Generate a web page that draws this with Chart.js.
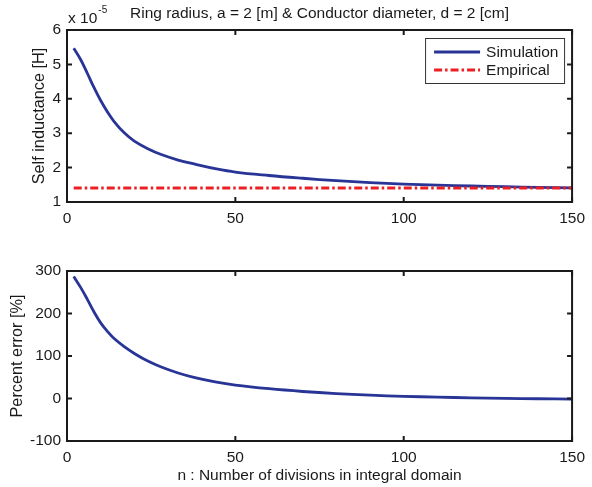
<!DOCTYPE html>
<html>
<head>
<meta charset="utf-8">
<script src="https://cdn.jsdelivr.net/npm/chart.js@4/dist/chart.umd.min.js"></script>
<style>
  body { margin: 0; background: #fff; }
  .box { position: absolute; left: 0; width: 592px; }
  #top { top: 0; height: 245px; }
  #bottom { top: 245px; height: 242px; }
</style>
</head>
<body>
<div class="box" id="top"><canvas id="grafica1" width="592" height="245"></canvas></div>
<div class="box" id="bottom"><canvas id="grafica2" width="592" height="242"></canvas></div>
<script>
// n : number of divisions
const divisions = [2, 4, 6, 8, 10, 12, 14, 17, 20, 24, 28, 33, 38, 44, 50, 60, 70, 80, 90, 100, 110, 120, 130, 140, 150];
// self inductance, in units of 10^-5 H
const simulation = [5.47, 5.15, 4.75, 4.33, 3.95, 3.62, 3.34, 3.01, 2.77, 2.55, 2.38, 2.22, 2.10, 1.97, 1.87,
                    1.77, 1.69, 1.62, 1.565, 1.52, 1.49, 1.465, 1.445, 1.425, 1.41];
const empiricalN = [2, 150];
const empirical = [1.41, 1.41];
// percent error [%]
const percentError = [287, 262, 234, 204, 178, 158, 141, 122, 106, 88, 74, 60, 49, 39, 31.5,
                      23, 16.5, 11.5, 7.8, 5.2, 3.2, 1.6, 0.4, -0.6, -1.3];
const xTicks = [0, 50, 100, 150];
const topYTicks = [1, 2, 3, 4, 5, 6];
const bottomYTicks = [-100, 0, 100, 200, 300];

const FONT = "'Liberation Sans', Arial, sans-serif";
const INK = "#1a1a1a";
const BLUE = "rgb(40,52,150)";
const RED = "rgb(236,32,36)";

Chart.defaults.font.family = FONT;
Chart.defaults.font.size = 15.5;
Chart.defaults.color = INK;

function pts(xs, ys) {
    return xs.map((x, i) => ({ x: x, y: ys[i] }));
}

// box around the axes with inward ticks on all four sides
const matlabBox = {
    id: "matlabBox",
    afterDraw(chart) {
        const { ctx, chartArea: a, scales: { x, y } } = chart;
        ctx.save();
        ctx.strokeStyle = INK;
        ctx.lineWidth = 2;
        ctx.strokeRect(a.left, a.top, a.right - a.left, a.bottom - a.top);
        ctx.beginPath();
        x.ticks.forEach(t => {
            const px = x.getPixelForValue(t.value);
            ctx.moveTo(px, a.bottom); ctx.lineTo(px, a.bottom - 5);
            ctx.moveTo(px, a.top); ctx.lineTo(px, a.top + 5);
        });
        y.ticks.forEach(t => {
            const py = y.getPixelForValue(t.value);
            ctx.moveTo(a.left, py); ctx.lineTo(a.left + 5, py);
            ctx.moveTo(a.right, py); ctx.lineTo(a.right - 5, py);
        });
        ctx.stroke();
        ctx.restore();
    }
};

// legend box inside the upper right corner + exponent label
const legendBox = {
    id: "legendBox",
    afterDraw(chart) {
        if (!chart.options.plugins.legendBox) return;
        const { ctx, chartArea: a } = chart;
        const w = 139, h = 45;
        const left = a.right - 8 - w, top = a.top + 8;
        ctx.save();
        ctx.fillStyle = "#fff";
        ctx.fillRect(left, top, w, h);
        ctx.strokeStyle = "#333";
        ctx.lineWidth = 1;
        ctx.strokeRect(left + 0.5, top + 0.5, w, h);
        ctx.font = "15.5px " + FONT;
        ctx.textBaseline = "middle";
        chart.data.datasets.forEach((ds, i) => {
            const ly = top + 14 + i * 18;
            ctx.strokeStyle = ds.borderColor;
            ctx.lineWidth = ds.borderWidth;
            ctx.setLineDash(ds.borderDash || []);
            ctx.beginPath();
            ctx.moveTo(left + 9, ly);
            ctx.lineTo(left + 55, ly);
            ctx.stroke();
            ctx.setLineDash([]);
            ctx.fillStyle = INK;
            ctx.fillText(ds.label, left + 61, ly + 1);
        });
        // x 10^-5
        ctx.fillStyle = INK;
        ctx.font = "15.5px " + FONT;
        ctx.fillText("x 10", a.left + 1, 19);
        const w10 = ctx.measureText("x 10").width;
        ctx.font = "10px " + FONT;
        ctx.fillText("-5", a.left + 2 + w10, 10);
        ctx.restore();
    }
};

function xAxis(height, title) {
    return {
        type: "linear",
        min: 0,
        max: 150,
        afterBuildTicks: s => { s.ticks = xTicks.map(v => ({ value: v })); },
        ticks: { padding: 7, maxRotation: 0, color: INK },
        grid: { display: false, drawTicks: false },
        border: { display: false },
        title: title ? { display: true, text: title, color: INK, font: { size: 15.5 }, padding: { top: 0, bottom: 1.6 } } : { display: false },
        afterFit: s => { s.height = height; }
    };
}

function yAxis(min, max, ticks, title, titleOffset) {
    return {
        min: min,
        max: max,
        afterBuildTicks: s => { s.ticks = ticks.map(v => ({ value: v })); },
        ticks: { padding: 6, color: INK },
        grid: { display: false, drawTicks: false },
        border: { display: false },
        title: { display: true, text: title, color: INK, font: { size: 16.3 }, padding: { top: titleOffset, bottom: 0 } },
        afterFit: s => { s.width = 67; }
    };
}

let grafica1 = document.getElementById("grafica1").getContext("2d");

new Chart(grafica1, {
    type: "line",
    data: {
        datasets: [
            {
                label: "Simulation",
                data: pts(divisions, simulation),
                borderColor: BLUE,
                borderWidth: 2.8,
                pointRadius: 0,
                tension: 0.4,
                order: 1
            },
            {
                label: "Empirical",
                data: pts(empiricalN, empirical),
                borderColor: RED,
                borderWidth: 3,
                borderDash: [8, 3, 2.5, 3],
                pointRadius: 0,
                order: 0
            }
        ]
    },
    options: {
        responsive: false,
        animation: false,
        layout: { padding: { left: 0, right: 15, top: 0, bottom: 0 } },
        scales: {
            x: xAxis(43, null),
            y: yAxis(1, 6, topYTicks, "Self inductance [H]", 30.2)
        },
        plugins: {
            legend: { display: false },
            tooltip: { enabled: false },
            legendBox: true,
            title: {
                display: true,
                fullSize: false,
                text: "Ring radius, a = 2 [m] & Conductor diameter, d = 2 [cm]",
                color: INK,
                font: { size: 15.5, weight: "normal" },
                padding: { top: 4.5, bottom: 6.9 }
            }
        }
    },
    plugins: [matlabBox, legendBox]
});

let grafica2 = document.getElementById("grafica2").getContext("2d");

new Chart(grafica2, {
    type: "line",
    data: {
        datasets: [
            {
                label: "Percent error",
                data: pts(divisions, percentError),
                borderColor: BLUE,
                borderWidth: 2.8,
                pointRadius: 0,
                tension: 0.4
            }
        ]
    },
    options: {
        responsive: false,
        animation: false,
        layout: { padding: { left: 0, right: 15, top: 26, bottom: 0 } },
        scales: {
            x: xAxis(46, "n : Number of divisions in integral domain"),
            y: yAxis(-100, 300, bottomYTicks, "Percent error [%]", 8.2)
        },
        plugins: {
            legend: { display: false },
            tooltip: { enabled: false }
        }
    },
    plugins: [matlabBox]
});
</script>
</body>
</html>
